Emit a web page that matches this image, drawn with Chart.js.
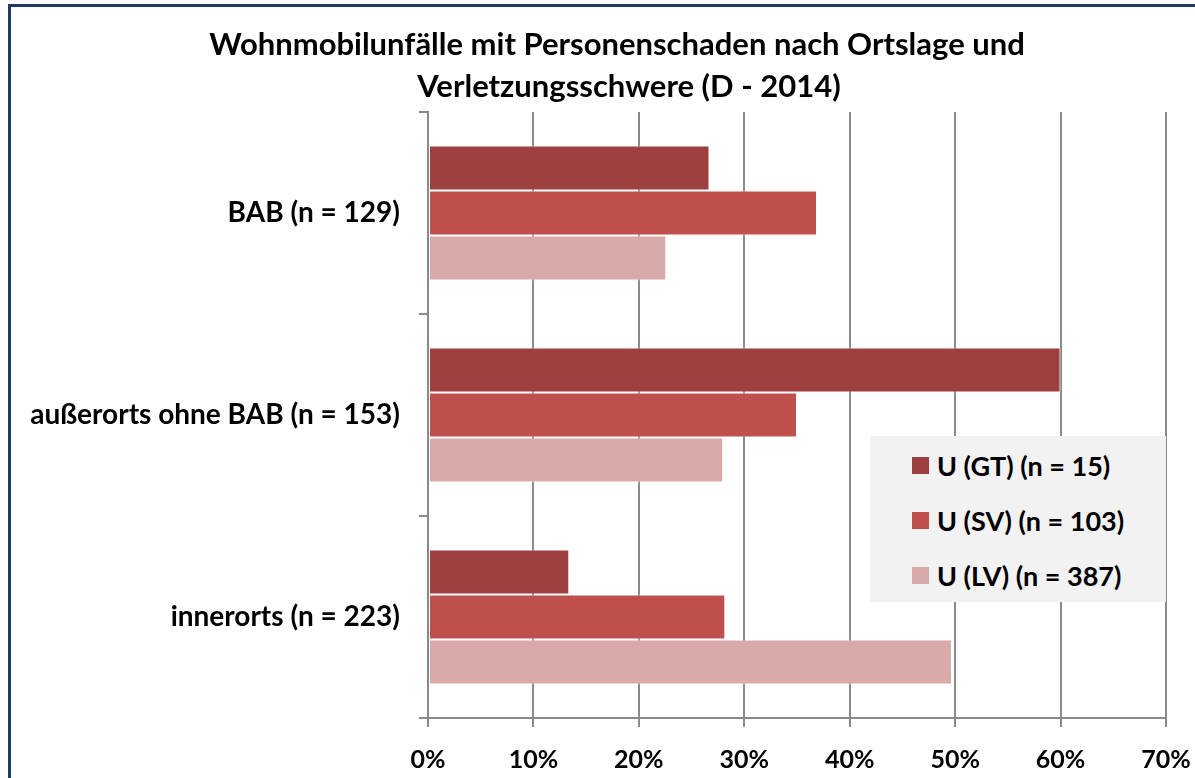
<!DOCTYPE html>
<html>
<head>
<meta charset="utf-8">
<script src="https://cdn.jsdelivr.net/npm/chart.js@4.4.1/dist/chart.umd.min.js"></script>
<style>
  html, body { margin: 0; padding: 0; background: #fff; overflow: hidden; }
  #wrap { position: relative; width: 1195px; height: 778px; overflow: hidden; }
  #frame { position: absolute; left: 8px; top: 4px; width: 1220px; height: 800px; border: 3px solid #1F3A64; box-sizing: border-box; pointer-events: none; }
  canvas { position: absolute; left: 0; top: 0; }
  #legend { position: absolute; left: 870px; top: 436px; width: 296px; height: 166px; background: #F2F2F2; font-family: Lato, sans-serif; font-weight: bold; font-size: 27px; color: #000; }
  .item { position: absolute; left: 42px; height: 30px; display: flex; align-items: center; }
  .sw { width: 17px; height: 17px; margin-right: 8px; }
</style>
</head>
<body>
<div id="wrap">
  <canvas id="c" width="1195" height="778"></canvas>
  <div id="frame"></div>
  <div id="legend"></div>
</div>
<script>
const titleLines = ['Wohnmobilunfälle mit Personenschaden nach Ortslage und', 'Verletzungsschwere (D - 2014)'];
const categories = ['BAB (n = 129)', 'außerorts ohne BAB (n = 153)', 'innerorts (n = 223)'];
const seriesLabels = ['U (GT) (n = 15)', 'U (SV) (n = 103)', 'U (LV) (n = 387)'];
const gtValues = [26.7, 60.0, 13.4];
const svValues = [36.9, 35.0, 28.2];
const lvValues = [22.6, 28.0, 49.7];
const xTickValues = [0, 10, 20, 30, 40, 50, 60, 70];
const seriesColors = ['#9E403F', '#C0504D', '#DAAAAA'];

const FONT = 'Lato, sans-serif';

const titlePlugin = {
  id: 'customTitle',
  afterDraw(chart) {
    const ctx = chart.ctx;
    ctx.save();
    ctx.font = 'bold 31px ' + FONT;
    ctx.fillStyle = '#000';
    ctx.textAlign = 'center';
    ctx.textBaseline = 'middle';
    ctx.fillText(titleLines[0], 617, 45);
    ctx.fillText(titleLines[1], 629, 87);
    ctx.restore();
  }
};

const seriesValues = [gtValues, svValues, lvValues];
const datasets = seriesLabels.map((lab, i) => ({
  label: lab,
  data: seriesValues[i],
  backgroundColor: seriesColors[i],
  borderColor: 'rgba(255,255,255,0.55)',
  borderWidth: 1,
  borderSkipped: false,
  barPercentage: 1.0,
  categoryPercentage: 0.668
}));

new Chart(document.getElementById('c'), {
  type: 'bar',
  data: { labels: categories, datasets },
  options: {
    indexAxis: 'y',
    responsive: false,
    animation: false,
    layout: { padding: { top: 112, left: 0, right: 29, bottom: 0 } },
    plugins: { legend: { display: false }, title: { display: false }, tooltip: { enabled: false } },
    scales: {
      x: {
        type: 'linear',
        min: 0, max: 70,
        afterBuildTicks(scale) { scale.ticks = xTickValues.map(v => ({ value: v })); },
        ticks: {
          callback: v => v + '%',
          font: { family: FONT, weight: 'bold', size: 25 },
          color: '#000',
          padding: 18,
          maxRotation: 0
        },
        grid: { color: '#8A8A8A', lineWidth: 2, tickLength: 9, drawTicks: true },
        border: { display: true, color: '#8A8A8A', width: 2 },
        afterFit(scale) { scale.height = 60; scale.paddingRight = 0; scale.paddingLeft = 0; }
      },
      y: {
        type: 'category',
        offset: true,
        ticks: {
          font: { family: FONT, weight: 'bold', size: 28 },
          color: '#000',
          padding: 19
        },
        grid: { offset: true, drawOnChartArea: false, drawTicks: true, tickLength: 9, color: '#8A8A8A', lineWidth: 2 },
        border: { display: true, color: '#8A8A8A', width: 2 },
        afterFit(scale) { scale.width = 428; scale.paddingTop = 0; scale.paddingBottom = 0; }
      }
    }
  },
  plugins: [titlePlugin]
});

const legendEl = document.getElementById('legend');
seriesLabels.forEach((lab, i) => {
  const it = document.createElement('div');
  it.className = 'item';
  it.style.top = (14 + i * 55) + 'px';
  const sw = document.createElement('span');
  sw.className = 'sw';
  sw.style.background = seriesColors[i];
  const tx = document.createElement('span');
  tx.textContent = lab;
  it.appendChild(sw);
  it.appendChild(tx);
  legendEl.appendChild(it);
});
</script>
</body>
</html>
